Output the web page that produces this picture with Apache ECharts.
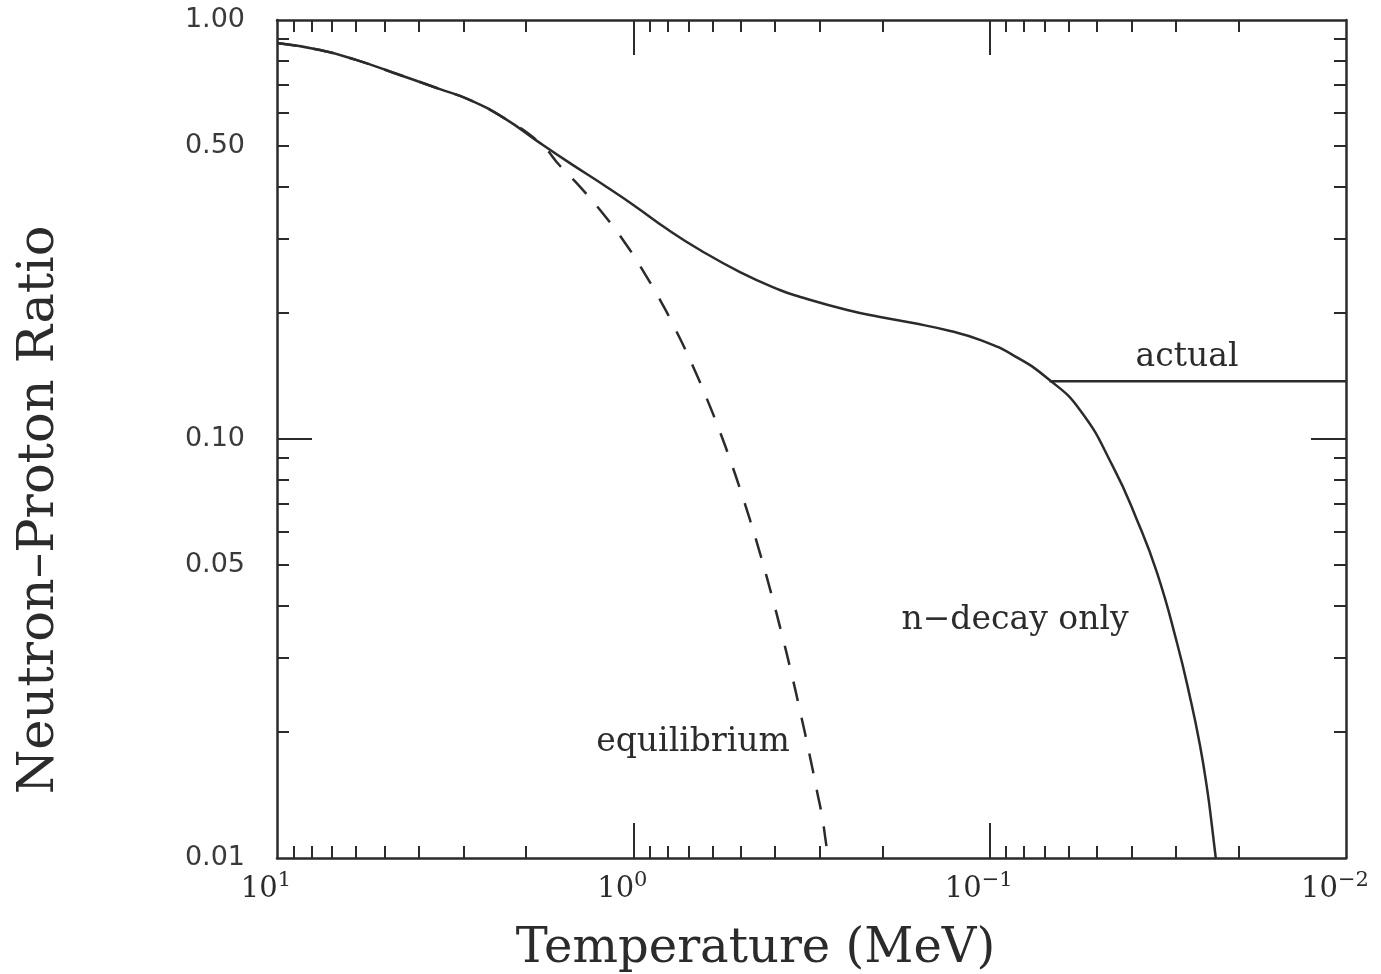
<!DOCTYPE html>
<html><head><meta charset="utf-8">
<script src="https://cdn.jsdelivr.net/npm/echarts@6/dist/echarts.min.js"></script>
<style>html,body{margin:0;padding:0;background:#fff}#chart{width:1381px;height:974px}</style>
</head><body><div id="chart"></div>
<script>
// ---- data ----
const temperatureLabelTicks = [10, 1, 0.1, 0.01];
const temperatureMajorTicks = [1, 0.1];
const temperatureMinorTicks = [9, 8, 7, 6, 5, 4, 3, 2, 0.9, 0.8, 0.7, 0.6, 0.5, 0.4, 0.3, 0.2, 0.09, 0.08, 0.07, 0.06, 0.05, 0.04, 0.03, 0.02];
const ratioLabelTicks = [1, 0.5, 0.1, 0.05, 0.01];
const ratioMajorTicks = [0.1];
const ratioMinorTicks = [0.9, 0.8, 0.7, 0.6, 0.5, 0.4, 0.3, 0.2, 0.09, 0.08, 0.07, 0.06, 0.05, 0.04, 0.03, 0.02];

// [temperature (MeV), n/p ratio]
const actualCurve = [
  [10, 0.881], [7.57, 0.848], [6.0, 0.803], [4.52, 0.739], [3.49, 0.684], [2.87, 0.644],
  [2.31, 0.584], [1.83, 0.509], [1.51, 0.456], [1.185, 0.399], [1.0, 0.362], [0.804, 0.317],
  [0.65, 0.2826], [0.502, 0.2503], [0.388, 0.2268], [0.34, 0.2183], [0.251, 0.2032],
  [0.203, 0.1955], [0.164, 0.1891], [0.129, 0.181], [0.106, 0.1722], [0.086, 0.1586],
  [0.069, 0.1398], [0.0558, 0.1173], [0.045, 0.0857], [0.0386, 0.0641], [0.0339, 0.0479],
  [0.0298, 0.0326], [0.0274, 0.0242], [0.0257, 0.0186], [0.0245, 0.0145], [0.0238, 0.0120],
  [0.0232, 0.0100]
];
const actualPlateau = [[0.068, 0.1374], [0.01, 0.1374]];
const equilibriumCurve = [
  [10, 0.881], [7.57, 0.848], [6.0, 0.803], [4.52, 0.739], [3.49, 0.684], [2.87, 0.644],
  [2.31, 0.584], [1.83, 0.509], [1.6, 0.447], [1.4, 0.397], [1.2, 0.340], [1.05, 0.292],
  [0.95, 0.256], [0.85, 0.218], [0.76, 0.182], [0.68, 0.149], [0.62, 0.124], [0.57, 0.1035],
  [0.53, 0.0872], [0.50, 0.0753], [0.47, 0.0639], [0.44, 0.0530], [0.41, 0.0427],
  [0.385, 0.0348], [0.36, 0.0276], [0.34, 0.0223], [0.32, 0.0176], [0.305, 0.0144],
  [0.295, 0.0125], [0.289, 0.0111], [0.284, 0.0100]
];

// ---- styling ----
const INK = '#2b2b2b';
const serif = 'DejaVu Serif';

function expLabel(v) {
  const e = Math.round(Math.log10(v));
  const s = e < 0 ? '\u2212' + (-e) : String(e);
  return '{b|10}{s|' + s + '}';
}

function xAxisDef(position, ticks, len, showLine, showLabel) {
  const ax = {
    type: 'log', logBase: 10, min: 0.01, max: 10, inverse: true, position: position,
    axisLine: { show: showLine, lineStyle: { color: INK, width: 2.5 } },
    axisTick: { show: true, inside: true, length: len, customValues: ticks, lineStyle: { color: INK, width: 2 } },
    axisLabel: { show: false },
    splitLine: { show: false }, minorTick: { show: false }, minorSplitLine: { show: false }
  };
  if (showLabel) {
    ax.axisLabel = {
      show: true, customValues: temperatureLabelTicks, margin: 12,
      formatter: expLabel,
      rich: {
        b: { fontFamily: serif, fontSize: 29, color: INK },
        s: { fontFamily: serif, fontSize: 21, color: INK, padding: [0, 22, 18, 0] }
      }
    };
    ax.name = 'Temperature (MeV)';
    ax.nameLocation = 'middle';
    ax.nameGap = 68;
    ax.nameTextStyle = { fontFamily: serif, fontSize: 48, color: INK, padding: [0, 112, 0, 0] };
  }
  return ax;
}

function yAxisDef(position, ticks, len, showLine, showLabel) {
  const ax = {
    type: 'log', logBase: 10, min: 0.01, max: 1, position: position,
    axisLine: { show: showLine, lineStyle: { color: INK, width: 2.5 } },
    axisTick: { show: true, inside: true, length: len, customValues: ticks, lineStyle: { color: INK, width: 2 } },
    axisLabel: { show: false },
    splitLine: { show: false }, minorTick: { show: false }, minorSplitLine: { show: false }
  };
  if (showLabel) {
    ax.axisLabel = {
      show: true, customValues: ratioLabelTicks, margin: 32,
      formatter: v => Number(v).toFixed(2),
      fontFamily: 'DejaVu Sans', fontSize: 27, color: '#3a3a3a', padding: [6, 0, 0, 0]
    };
    ax.name = 'Neutron\u2013Proton Ratio';
    ax.nameLocation = 'middle';
    ax.nameGap = 212;
    ax.nameTextStyle = { fontFamily: serif, fontSize: 51, color: INK, padding: [0, 142, 0, 0] };
  }
  return ax;
}

const chart = echarts.init(document.getElementById('chart'), null, { renderer: 'canvas' });
chart.setOption({
  backgroundColor: '#ffffff',
  animation: false,
  grid: { left: 277, right: 35, top: 20, bottom: 116, containLabel: false, outerBoundsMode: 'none' },
  xAxis: [
    xAxisDef('bottom', temperatureMinorTicks, 12, true, true),
    xAxisDef('bottom', temperatureMajorTicks, 35, false, false),
    xAxisDef('top', temperatureMinorTicks, 12, true, false),
    xAxisDef('top', temperatureMajorTicks, 35, false, false)
  ],
  yAxis: [
    yAxisDef('left', ratioMinorTicks, 12, true, true),
    yAxisDef('left', ratioMajorTicks, 35, false, false),
    yAxisDef('right', ratioMinorTicks, 12, true, false),
    yAxisDef('right', ratioMajorTicks, 35, false, false)
  ],
  series: [
    {
      name: 'equilibrium', type: 'line', xAxisIndex: 0, yAxisIndex: 0, data: equilibriumCurve,
      showSymbol: false, smooth: 0.5, clip: true,
      lineStyle: { color: INK, width: 2.5, type: [20, 17] }
    },
    {
      name: 'actual', type: 'line', xAxisIndex: 0, yAxisIndex: 0, data: actualCurve,
      showSymbol: false, smooth: 0.5, clip: true,
      lineStyle: { color: INK, width: 2.5 }
    },
    {
      name: 'actual plateau', type: 'line', xAxisIndex: 0, yAxisIndex: 0, data: actualPlateau,
      showSymbol: false, clip: true,
      lineStyle: { color: INK, width: 2.5 }
    }
  ],
  graphic: [
    { type: 'text', x: 1187, y: 357, style: { text: 'actual', fontFamily: serif, fontSize: 33, fill: INK, align: 'center', verticalAlign: 'middle' } },
    { type: 'text', x: 1015, y: 620, style: { text: 'n\u2212decay only', fontFamily: serif, fontSize: 33, fill: INK, align: 'center', verticalAlign: 'middle' } },
    { type: 'text', x: 693, y: 742, style: { text: 'equilibrium', fontFamily: serif, fontSize: 33, fill: INK, align: 'center', verticalAlign: 'middle' } }
  ]
});
</script>
</body></html>
